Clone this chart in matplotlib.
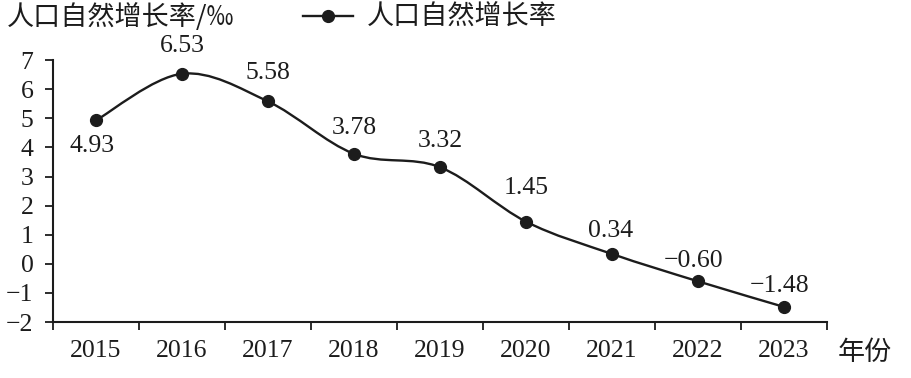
import matplotlib.pyplot as plt
import numpy as np
from matplotlib import font_manager
from matplotlib.path import Path
from matplotlib.patches import PathPatch

years = ['2015', '2016', '2017', '2018', '2019', '2020', '2021', '2022', '2023']
rates = [4.93, 6.53, 5.58, 3.78, 3.32, 1.45, 0.34, -0.60, -1.48]
rate_labels = ['4.93', '6.53', '5.58', '3.78', '3.32', '1.45', '0.34', '\u22120.60', '\u22121.48']
y_ticks = list(range(-2, 8))

# fails loudly if the Times-like face is missing
font_manager.findfont('Liberation Serif', fallback_to_default=False)

serif = ['Liberation Serif', 'DejaVu Serif']
cjk = ['Noto Sans CJK SC', 'DejaVu Sans']
ink = '#1c1c1c'
num_size = 18.5
cjk_size = 19.5


def smooth_path(xs, ys):
    # catmull-rom tangents turned into cubic bezier segments
    pts = np.column_stack([xs, ys])
    padded = np.vstack([pts[0], pts, pts[-1]])
    verts = [pts[0]]
    codes = [Path.MOVETO]
    for i in range(len(pts) - 1):
        p0, p1, p2, p3 = padded[i], padded[i + 1], padded[i + 2], padded[i + 3]
        verts += [p1 + (p2 - p0) / 6, p2 - (p3 - p1) / 6, p2]
        codes += [Path.CURVE4] * 3
    return Path(verts, codes)


fig = plt.figure(figsize=(9.11, 3.78), dpi=100)
ax = fig.add_axes([0.0582, 0.148, 0.8496, 0.693])

x = np.arange(len(years))
ax.add_patch(PathPatch(smooth_path(x, rates), fill=False, edgecolor=ink, lw=1.7, zorder=2))
ax.plot(x, rates, linestyle='none', marker='o', markersize=8.5, color=ink, zorder=3)

# label offsets in pixels (dx, dy)
offsets = [(-4, -26), (0, 28), (0, 28), (0, 26), (0, 26), (0, 34), (-1, 23), (-4, 20), (-4, 21)]
for xi, yi, lab, (dx, dy) in zip(x, rates, rate_labels, offsets):
    ax.annotate(lab, (xi, yi), xytext=(dx * 0.72, dy * 0.72), textcoords='offset points',
                ha='center', va='center', fontsize=num_size, family=serif, color=ink)

ax.set_xlim(-0.5, len(years) - 0.5)
ax.set_ylim(-2, 7)
ax.set_yticks(y_ticks)
ax.set_yticklabels([str(t).replace('-', '\u2212') for t in y_ticks], family=serif, fontsize=num_size, color=ink)
ax.set_xticks(np.arange(len(years) + 1) - 0.5)
ax.set_xticklabels([])
ax.set_xticks(x, minor=True)
ax.set_xticklabels(years, minor=True, family=serif, fontsize=num_size, color=ink)
ax.tick_params(axis='x', which='major', direction='out', length=6, width=1.3, color=ink)
ax.tick_params(axis='x', which='minor', length=0, pad=13)
ax.tick_params(axis='y', direction='out', length=6, width=1.3, color=ink, pad=8)

for side in ['top', 'right']:
    ax.spines[side].set_visible(False)
for side in ['left', 'bottom']:
    ax.spines[side].set_linewidth(1.5)
    ax.spines[side].set_color(ink)

fig.text(0.008, 0.955, '人口自然增长率/‰', family=cjk, fontsize=cjk_size, color=ink, ha='left', va='center')
fig.text(0.920, 0.068, '年份', family=cjk, fontsize=cjk_size, color=ink, ha='left', va='center')

leg = ax.legend([plt.Line2D([], [], color=ink, lw=1.7, marker='o', markersize=8.5)], ['人口自然增长率'],
                loc='center left', bbox_to_anchor=(0.333, 0.953), bbox_transform=fig.transFigure,
                frameon=False, prop={'family': cjk, 'size': cjk_size}, handlelength=1.85, handletextpad=0.5,
                borderaxespad=0, borderpad=0)
for t in leg.get_texts():
    t.set_color(ink)

fig.savefig('out.png', dpi=100)
